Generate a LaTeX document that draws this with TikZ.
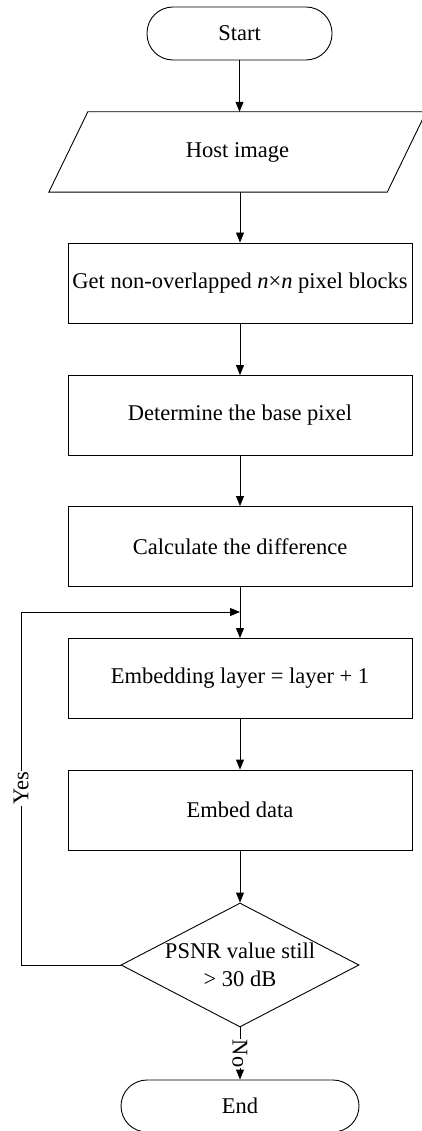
\documentclass[tikz,border=0pt]{standalone}
\usepackage{fontspec}
\setmainfont{Liberation Serif}
\usetikzlibrary{arrows.meta,shapes.geometric,calc}
\begin{document}
\begin{tikzpicture}[x=1pt,y=-1pt,
  every node/.style={font=\fontsize{22.5}{28}\selectfont},
  line/.style={line width=0.9pt,draw=black},
  arr/.style={line, -{Triangle[length=10pt,width=8pt]}},
  term/.style={line, rectangle, rounded corners=26pt, inner sep=0pt},
  procbox/.style={line, rectangle, minimum width=344pt, minimum height=80pt, inner sep=0pt},
  lbl/.style={fill=white, inner sep=1pt}
]
\useasboundingbox (0,0) rectangle (421,1131);
\node[term, minimum width=185pt, minimum height=53pt] (start) at (239.5,33.5) {Start};
\node[minimum width=338pt, minimum height=80pt, inner sep=0pt] (host) at (237.5,152) {Host image};
\draw[line] ($(host.south west)+(-19.5,0)$) -- ($(host.north west)+(19.5,0)$) -- ($(host.north east)+(19.5,0)$) -- ($(host.south east)+(-19.5,0)$) -- cycle;
\node[procbox] (get) at (240,283) {Get non-overlapped \textit{n}×\textit{n} pixel blocks};
\node[procbox] (det) at (240,415.5) {Determine the base pixel};
\node[procbox] (calc) at (240,546.5) {Calculate the difference};
\node[procbox] (emb) at (240,678.5) {Embedding layer = layer + 1};
\node[procbox] (data) at (240,810) {Embed data};
\node[line, diamond, minimum width=238pt, minimum height=124pt, inner sep=0pt,
  label={[align=center, font=\fontsize{22.5}{28}\selectfont]center:PSNR value still\\> 30 dB}] (dec) at (240,965) {};
\node[term, minimum width=238pt, minimum height=52pt] (end) at (240,1106) {End};
\coordinate (join) at (240,612);
\coordinate (lb) at (21,965);
\coordinate (lt) at (21,612);

\draw[arr] (start.south) -- (start.south |- host.north);
\draw[arr] (get.north |- host.south) -- (get.north);
\draw[arr] (get.south) -- (det.north);
\draw[arr] (det.south) -- (calc.north);
\draw[arr] (calc.south) -- (emb.north);
\draw[arr] (emb.south) -- (data.north);
\draw[arr] (data.south) -- (dec.north);
\draw[arr] (dec.west) -- (lb) -- node[lbl, rotate=90, pos=0.5] (yes) {Yes} (lt) -- (join);
\draw[arr] (dec.south) -- node[lbl, rotate=-90, pos=0.5] (no) {No} (end.north);
\end{tikzpicture}
\end{document}
